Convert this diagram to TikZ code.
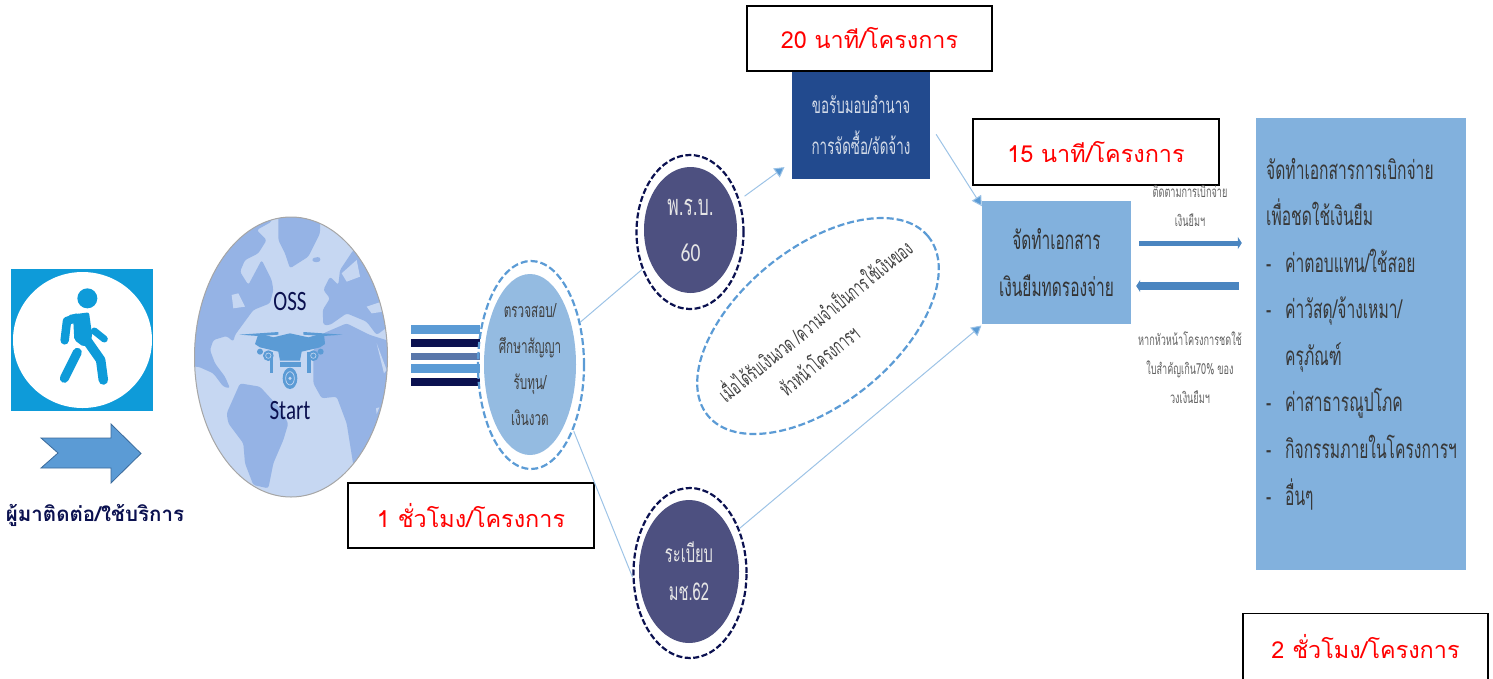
\documentclass[tikz,border=0pt]{standalone}
\usepackage{fontspec}
\usetikzlibrary{shapes.geometric,arrows.meta}
\newfontfamily\thw[Script=Thai]{Loma}
\newfontfamily\thn[Script=Thai,FakeStretch=0.6]{Loma}
\newfontfamily\lat[FakeStretch=0.75]{Carlito}
\setmainfont[Script=Thai]{Loma}
\definecolor{navyd}{HTML}{0B1150}
\definecolor{slate}{HTML}{4D5080}
\definecolor{midb}{HTML}{5B9BD5}
\definecolor{softb}{HTML}{82B1DD}
\definecolor{lineb}{HTML}{9DC3E6}
\definecolor{royal}{HTML}{224A8E}
\definecolor{walkb}{HTML}{0E9BD9}
\definecolor{oceanl}{HTML}{C6D7F2}
\definecolor{landd}{HTML}{95B3E5}
\definecolor{chkf}{HTML}{94BBE1}
\definecolor{bararrow}{HTML}{4A85C0}
\tikzset{
  timebox/.style={draw=black,line width=1.6pt,fill=white,inner sep=0pt,text=red,font=\thw\fontsize{23.4}{28}\selectfont},
  conn/.style={draw=lineb,line width=1pt},
  connarrow/.style={conn,-{Triangle[length=10pt,width=11pt,fill=midb]}},
  bararr/.style={draw=bararrow,line width=5pt,-{Triangle[length=4pt,width=12pt]}},
  disc/.style={ellipse,inner sep=0pt},
  outerring/.style={disc,draw=navyd,line width=2.2pt,dash pattern=on 6pt off 2.5pt},
  bluering/.style={disc,draw=midb,line width=2.2pt,dash pattern=on 7pt off 3pt},
  smallgray/.style={text=black!62,font=\thn\fontsize{15.2}{29}\selectfont,align=center,inner sep=0pt},
  bodytext/.style={text=black!78,font=\thn\fontsize{26}{46.5}\selectfont,inner sep=0pt},
  stripe/.style={inner sep=0pt,minimum width=69pt,anchor=north west},
  land/.style={fill=landd,rounded corners=2.5pt}
}
\begin{document}
\begin{tikzpicture}[x=1pt,y=-1pt]
\useasboundingbox (0,0) rectangle (1493,678);
% walker
\fill[walkb] (11,269) rectangle (153,411);
\fill[white] (82.5,340) ellipse [x radius=69.5,y radius=68];
\begin{scope}[shift={(5,265)},scale=1/3]
  \fill[walkb] (247,100) circle (30);
  \fill[walkb,rounded corners=2pt] (190,150) -- (252,142) -- (262,215) -- (250,240) -- (235,245) -- (208,225) -- (205,170) -- cycle;
  \draw[walkb,line width=8.5pt,line cap=round,line join=round] (215,158) -- (186,168) -- (179,226);
  \draw[walkb,line width=9.5pt,line cap=round,line join=round] (240,218) -- (287,285) -- (295,345);
  \draw[walkb,line width=9pt,line cap=round] (217,262) -- (178,340);
  \draw[walkb,line width=7pt,line cap=round] (268,198) -- (298,222);
\end{scope}
\fill[midb,draw=bararrow!80!black,line width=.8pt] (41,438) -- (111,438) -- (111,424) -- (141,453.5) -- (111,483) -- (111,468) -- (41,468) -- (58,453) -- cycle;
\node[inner sep=0pt,text=navyd,font=\thw\bfseries\fontsize{20.5}{24}\selectfont] (visitor) at (95,515) {ผู้มาติดต่อ/ใช้บริการ};
% globe
\begin{scope}
  \clip (291,357) ellipse [x radius=96.5,y radius=140];
  \fill[oceanl] (190,210) rectangle (395,505);
  \begin{scope}[shift={(190,210)},scale=1/3]
    \path[land] (0,0) -- (245,0) -- (245,35) -- (200,60) -- (230,90) -- (205,130) -- (165,150) -- (150,185) -- (175,225) -- (215,150) -- (245,210) -- (250,240) -- (240,280) -- (190,300) -- (135,375) -- (130,395) -- (110,378) -- (70,390) -- (60,420) -- (75,460) -- (105,500) -- (120,535) -- (100,530) -- (70,490) -- (25,470) -- (0,470) -- cycle;
    \path[land] (265,0) -- (390,0) -- (390,70) -- (355,140) -- (300,175) -- (285,130) -- (265,90) -- cycle;
    \path[land] (365,145) -- (390,140) -- (392,155) -- (370,157) -- cycle;
    \path[land] (400,345) -- (398,300) -- (420,265) -- (400,240) -- (420,200) -- (445,225) -- (450,180) -- (490,120) -- (530,120) -- (620,200) -- (620,330) -- (560,375) -- (530,335) -- (470,310) -- (420,345) -- cycle;
    \path[land] (370,490) -- (370,420) -- (400,370) -- (470,340) -- (540,375) -- (620,400) -- (620,640) -- (490,765) -- (470,640) -- (440,560) -- (395,565) -- (370,520) -- cycle;
    \path[land] (110,610) -- (150,520) -- (210,530) -- (265,590) -- (295,640) -- (280,690) -- (250,760) -- (235,835) -- (190,825) -- (165,760) -- (160,700) -- (115,640) -- cycle;
    \fill[oceanl] (530,290) -- (575,275) -- (580,305) -- (545,310) -- cycle;
    \fill[oceanl] (125,255) -- (145,250) -- (165,290) -- (130,295) -- cycle;
    \fill[oceanl] (560,400) -- (590,480) -- (582,490) -- cycle;
    \fill[oceanl] (558,595) -- (568,592) -- (560,612) -- cycle;
    \fill[oceanl] (500,150) -- (510,200) -- (470,215) -- (455,190) -- cycle;
    % drone
    \fill[midb] (148,374) -- (265,366) -- (265,374) -- (205,378) -- cycle;
    \fill[midb] (458,374) -- (340,366) -- (340,374) -- (400,378) -- cycle;
    \fill[midb] (205,372) -- (215,372) -- (250,382) -- (300,370) -- (355,382) -- (392,372) -- (402,372) -- (405,402) -- (390,412) -- (335,425) -- (330,452) -- (270,452) -- (265,425) -- (210,412) -- (195,402) -- cycle;
    \fill[midb] (270,456) rectangle (332,470);
    \fill[midb] (240,425) rectangle (250,488);
    \fill[midb] (352,425) rectangle (362,488);
    \fill[midb] (300,505) ellipse [x radius=22,y radius=32];
    \draw[oceanl,line width=.7pt] (300,505) ellipse [x radius=13,y radius=20];
    \fill[oceanl] (300,505) circle (5);
    \fill[midb] (235,437) circle (16); \draw[oceanl,line width=.6pt] (235,437) circle (8);
    \fill[midb] (370,437) circle (16); \draw[oceanl,line width=.6pt] (370,437) circle (8);
    \fill[midb] (210,425) circle (9); \fill[midb] (392,425) circle (9);
  \end{scope}
\end{scope}
\draw[black!35,line width=1pt] (291,357) ellipse [x radius=96.5,y radius=140];
\node[inner sep=0pt,text=navyd,font=\lat\fontsize{28}{30}\selectfont] (oss) at (290,302) {OSS};
\node[inner sep=0pt,text=navyd,font=\lat\fontsize{28}{30}\selectfont] (start) at (290,411) {Start};
% stripes
\node[stripe,fill=midb,minimum height=9pt] (s1) at (411,325) {};
\node[stripe,fill=navyd,minimum height=8pt] (s2) at (411,339) {};
\node[stripe,fill=royal!75!white,minimum height=7pt] (s3) at (411,353) {};
\node[stripe,fill=midb,minimum height=9pt] (s4) at (411,364) {};
\node[stripe,fill=navyd,minimum height=8pt] (s5) at (411,378) {};
% check ellipse
\node[bluering,minimum width=106pt,minimum height=208pt] (chk) at (531,365) {};
\node[disc,fill=chkf,minimum width=92pt,minimum height=181pt,text=black!75,font=\thn\fontsize{19.5}{36}\selectfont,align=center] (chktext) at (530,364.5) {ตรวจสอบ/\\ศึกษาสัญญา\\รับทุน/\\เงินงวด};
% PRB and regulation
\node[outerring,minimum width=107pt,minimum height=154pt] (prb) at (690,232) {};
\node[disc,fill=slate,minimum width=93pt,minimum height=126pt,text=white!90!black,align=center,font=\thn\fontsize{29}{46}\selectfont] (prbtext) at (690.5,230) {พ.ร.บ.\\{\lat\fontsize{26}{46}\selectfont 60}};
\node[outerring,minimum width=113pt,minimum height=170pt] (reg) at (690,573) {};
\node[disc,fill=slate,minimum width=100pt,minimum height=143pt,text=white!90!black,align=center,font=\thn\fontsize{24.5}{38}\selectfont] (regtext) at (689,571.5) {ระเบียบ\\มช.62};
% boxes
\node[rectangle,fill=royal,minimum width=138pt,minimum height=108pt,inner sep=0pt,text=white!80!royal,align=center,font=\thn\fontsize{22.3}{41.5}\selectfont] (auth) at (861,125) {ขอรับมอบอำนาจ\\การจัดซื้อ/จัดจ้าง};
\node[timebox,minimum width=245pt,minimum height=65pt] (t20) at (869.5,38.5) {20 นาที/โครงการ};
\node[rectangle,fill=softb,minimum width=149pt,minimum height=123pt,inner sep=0pt,text=black!80,align=center,font=\thn\fontsize{25.8}{46.5}\selectfont] (doc) at (1056.5,262.5) {จัดทำเอกสาร\\เงินยืมทดรองจ่าย};
\node[timebox,minimum width=246pt,minimum height=66pt] (t15) at (1096,152) {15 นาที/โครงการ};
\node[rectangle,fill=softb,minimum width=210pt,minimum height=452pt,inner sep=0pt] (exp) at (1361,344) {};
\node[timebox,minimum width=245pt,minimum height=66pt] (t2) at (1365.5,646.5) {2 ชั่วโมง/โครงการ};
\node[timebox,minimum width=246pt,minimum height=65pt] (t1) at (471,515.5) {1 ชั่วโมง/โครงการ};
% expense text
\node[bodytext,anchor=base west] (e1) at (1266,179) {จัดทำเอกสารการเบิกจ่าย};
\node[bodytext,anchor=base west] (e2) at (1266,225) {เพื่อชดใช้เงินยืม};
\node[bodytext,anchor=base west] (d3) at (1266,272) {-};
\node[bodytext,anchor=base west] (e3) at (1285,272) {ค่าตอบแทน/ใช้สอย};
\node[bodytext,anchor=base west] (d4) at (1266,318) {-};
\node[bodytext,anchor=base west] (e4) at (1285,318) {ค่าวัสดุ/จ้างเหมา/};
\node[bodytext,anchor=base west] (e5) at (1285,365) {ครุภัณฑ์};
\node[bodytext,anchor=base west] (d6) at (1266,411) {-};
\node[bodytext,anchor=base west] (e6) at (1285,411) {ค่าสาธารณูปโภค};
\node[bodytext,anchor=base west] (d7) at (1266,458) {-};
\node[bodytext,anchor=base west] (e7) at (1285,458) {กิจกรรมภายในโครงการฯ};
\node[bodytext,anchor=base west] (d8) at (1266,505) {-};
\node[bodytext,anchor=base west] (e8) at (1285,505) {อื่นๆ};
% small labels
\node[smallgray] (lab1) at (1190,206) {ติดตามการเบิกจ่าย\\เงินยืมฯ};
\node[smallgray] (lab2) at (1190,368) {หากหัวหน้าโครงการชดใช้\\ใบสำคัญเกิน70\% ของ\\วงเงินยืมฯ};
% dashed note
\node[bluering,rotate=39,minimum width=284pt,minimum height=156pt] (note) at (818,326) {};
\node[rotate=39,inner sep=0pt,text=black!75,align=center,font=\thn\fontsize{21}{33}\selectfont] (notetext) at (824,332) {เมื่อได้รับเงินงวด /ความจำเป็นการใช้เงินของ\\หัวหน้าโครงการฯ\hspace*{44pt}};
% connectors
\draw[conn] (chk.41) -- (prb.218);
\draw[conn,shorten <=1pt] (chk.-57) -- (reg.184);
\draw[connarrow,shorten <=6pt,shorten >=9pt] (prb.33) -- (auth.208);
\draw[connarrow,shorten <=11pt] (auth.east) -- (doc.143);
\draw[connarrow,shorten >=2pt] (reg.42) -- (doc.220);
\coordinate (ra) at ([yshift=19.5pt]doc.east);
\coordinate (la) at ([yshift=-23.5pt]doc.east);
\coordinate (rb) at ([yshift=101pt]exp.west);
\coordinate (lb) at ([yshift=58pt]exp.west);
\draw[bararr,shorten <=8pt,shorten >=14pt] (ra) -- (rb);
\draw[bararr,line width=8pt,shorten <=17pt,shorten >=5pt] (lb) -- (la);
\end{tikzpicture}
\end{document}
